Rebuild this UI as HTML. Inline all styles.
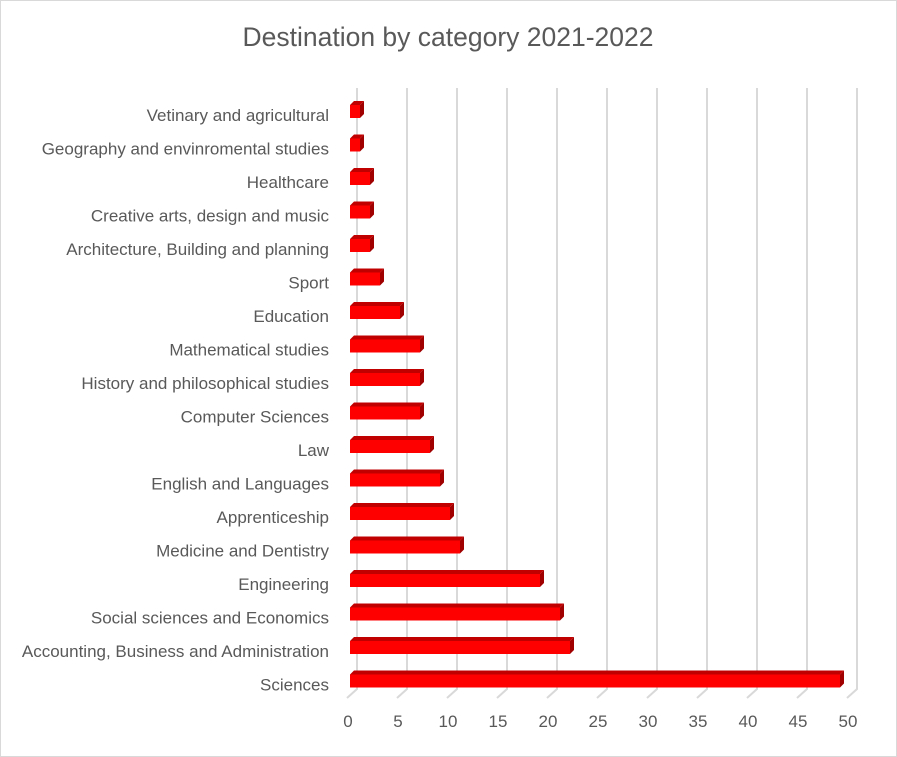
<!DOCTYPE html><html><head><style>body{margin:0;background:#fff}svg{display:block}text{font-family:"Liberation Sans",sans-serif;font-size:17px;fill:#595959}.l{text-anchor:end}.t{text-anchor:middle}.top{fill:#c00000}.sd{fill:#a00000}.f{fill:#ff0000}.gr{stroke:#d9d9d9;stroke-width:2;fill:none}</style></head><body>
<svg width="897" height="757" xmlns="http://www.w3.org/2000/svg">
<rect x="0.5" y="0.5" width="896" height="756" fill="#fff" stroke="#d9d9d9"/>
<text x="448" y="46" class="t" style="font-size:26.5px">Destination by category 2021-2022</text>
<g class="gr">
<polyline points="357,88 357,689 347,698"/><polyline points="407,88 407,689 397,698"/><polyline points="457,88 457,689 447,698"/><polyline points="507,88 507,689 497,698"/><polyline points="557,88 557,689 547,698"/><polyline points="607,88 607,689 597,698"/><polyline points="657,88 657,689 647,698"/><polyline points="707,88 707,689 697,698"/><polyline points="757,88 757,689 747,698"/><polyline points="807,88 807,689 797,698"/><polyline points="857,88 857,689 847,698"/>
</g>
<g class="t">
<text x="348" y="727" class="t">0</text><text x="398" y="727" class="t">5</text><text x="448" y="727" class="t">10</text><text x="498" y="727" class="t">15</text><text x="548" y="727" class="t">20</text><text x="598" y="727" class="t">25</text><text x="648" y="727" class="t">30</text><text x="698" y="727" class="t">35</text><text x="748" y="727" class="t">40</text><text x="798" y="727" class="t">45</text><text x="848" y="727" class="t">50</text>
</g>
<g transform="translate(0,105)"><polygon class="top" points="350,0 354,-4 364,-4 360,0"/><polygon class="sd" points="360,0 364,-4 364,9 360,13"/><rect class="f" x="350" y="0" width="10" height="13"/><text x="329" y="16" class="l">Vetinary and agricultural</text></g>
<g transform="translate(0,138.5)"><polygon class="top" points="350,0 354,-4 364,-4 360,0"/><polygon class="sd" points="360,0 364,-4 364,9 360,13"/><rect class="f" x="350" y="0" width="10" height="13"/><text x="329" y="16" class="l">Geography and envinromental studies</text></g>
<g transform="translate(0,172)"><polygon class="top" points="350,0 354,-4 374,-4 370,0"/><polygon class="sd" points="370,0 374,-4 374,9 370,13"/><rect class="f" x="350" y="0" width="20" height="13"/><text x="329" y="16" class="l">Healthcare</text></g>
<g transform="translate(0,205.5)"><polygon class="top" points="350,0 354,-4 374,-4 370,0"/><polygon class="sd" points="370,0 374,-4 374,9 370,13"/><rect class="f" x="350" y="0" width="20" height="13"/><text x="329" y="16" class="l">Creative arts, design and music</text></g>
<g transform="translate(0,239)"><polygon class="top" points="350,0 354,-4 374,-4 370,0"/><polygon class="sd" points="370,0 374,-4 374,9 370,13"/><rect class="f" x="350" y="0" width="20" height="13"/><text x="329" y="16" class="l">Architecture, Building and planning</text></g>
<g transform="translate(0,272.5)"><polygon class="top" points="350,0 354,-4 384,-4 380,0"/><polygon class="sd" points="380,0 384,-4 384,9 380,13"/><rect class="f" x="350" y="0" width="30" height="13"/><text x="329" y="16" class="l">Sport</text></g>
<g transform="translate(0,306)"><polygon class="top" points="350,0 354,-4 404,-4 400,0"/><polygon class="sd" points="400,0 404,-4 404,9 400,13"/><rect class="f" x="350" y="0" width="50" height="13"/><text x="329" y="16" class="l">Education</text></g>
<g transform="translate(0,339.5)"><polygon class="top" points="350,0 354,-4 424,-4 420,0"/><polygon class="sd" points="420,0 424,-4 424,9 420,13"/><rect class="f" x="350" y="0" width="70" height="13"/><text x="329" y="16" class="l">Mathematical studies</text></g>
<g transform="translate(0,373)"><polygon class="top" points="350,0 354,-4 424,-4 420,0"/><polygon class="sd" points="420,0 424,-4 424,9 420,13"/><rect class="f" x="350" y="0" width="70" height="13"/><text x="329" y="16" class="l">History and philosophical studies</text></g>
<g transform="translate(0,406.5)"><polygon class="top" points="350,0 354,-4 424,-4 420,0"/><polygon class="sd" points="420,0 424,-4 424,9 420,13"/><rect class="f" x="350" y="0" width="70" height="13"/><text x="329" y="16" class="l">Computer Sciences</text></g>
<g transform="translate(0,440)"><polygon class="top" points="350,0 354,-4 434,-4 430,0"/><polygon class="sd" points="430,0 434,-4 434,9 430,13"/><rect class="f" x="350" y="0" width="80" height="13"/><text x="329" y="16" class="l">Law</text></g>
<g transform="translate(0,473.5)"><polygon class="top" points="350,0 354,-4 444,-4 440,0"/><polygon class="sd" points="440,0 444,-4 444,9 440,13"/><rect class="f" x="350" y="0" width="90" height="13"/><text x="329" y="16" class="l">English and Languages</text></g>
<g transform="translate(0,507)"><polygon class="top" points="350,0 354,-4 454,-4 450,0"/><polygon class="sd" points="450,0 454,-4 454,9 450,13"/><rect class="f" x="350" y="0" width="100" height="13"/><text x="329" y="16" class="l">Apprenticeship</text></g>
<g transform="translate(0,540.5)"><polygon class="top" points="350,0 354,-4 464,-4 460,0"/><polygon class="sd" points="460,0 464,-4 464,9 460,13"/><rect class="f" x="350" y="0" width="110" height="13"/><text x="329" y="16" class="l">Medicine and Dentistry</text></g>
<g transform="translate(0,574)"><polygon class="top" points="350,0 354,-4 544,-4 540,0"/><polygon class="sd" points="540,0 544,-4 544,9 540,13"/><rect class="f" x="350" y="0" width="190" height="13"/><text x="329" y="16" class="l">Engineering</text></g>
<g transform="translate(0,607.5)"><polygon class="top" points="350,0 354,-4 564,-4 560,0"/><polygon class="sd" points="560,0 564,-4 564,9 560,13"/><rect class="f" x="350" y="0" width="210" height="13"/><text x="329" y="16" class="l">Social sciences and Economics</text></g>
<g transform="translate(0,641)"><polygon class="top" points="350,0 354,-4 574,-4 570,0"/><polygon class="sd" points="570,0 574,-4 574,9 570,13"/><rect class="f" x="350" y="0" width="220" height="13"/><text x="329" y="16" class="l">Accounting, Business and Administration</text></g>
<g transform="translate(0,674.5)"><polygon class="top" points="350,0 354,-4 844,-4 840,0"/><polygon class="sd" points="840,0 844,-4 844,9 840,13"/><rect class="f" x="350" y="0" width="490" height="13"/><text x="329" y="16" class="l">Sciences</text></g>
</svg></body></html>
